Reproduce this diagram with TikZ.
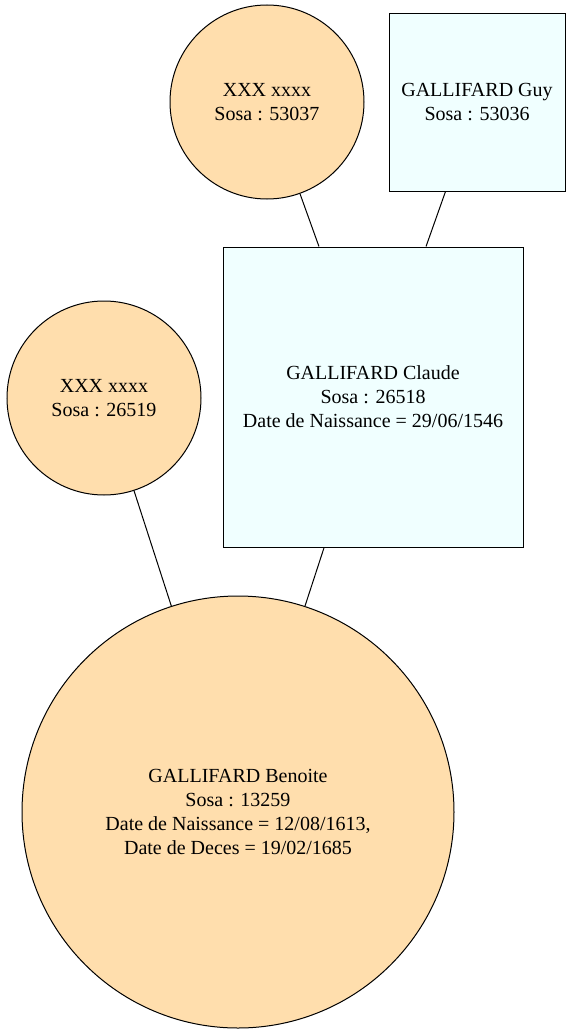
\documentclass[tikz,border=0pt]{standalone}
\usepackage{fontspec}
\setmainfont{Liberation Serif}
\definecolor{navajo}{RGB}{255,222,173}
\definecolor{azur}{RGB}{240,255,255}

\begin{document}
\begin{tikzpicture}[
				x=1pt,y=-1pt,
				line width=1pt,
				font=\fontsize{20}{24}\selectfont]
			\tikzstyle{woman node}=[circle,draw,fill=navajo,align=center,inner sep=0]
			\tikzstyle{man node}=[rectangle,draw,fill=azur,align=center,inner sep=0]
			\useasboundingbox (0,0) rectangle (570,1033);
			\node[woman node,minimum size=194] (sosa53037) at (267,102) {XXX xxxx\\Sosa : 53037};
			\node[man node,minimum width=176,minimum height=177] (sosa53036) at (477,102.5) {GALLIFARD Guy\\Sosa : 53036};
			\node[man node,minimum size=300] (sosa26518) at (373,397) {GALLIFARD Claude\\Sosa : 26518\\Date de Naissance = 29/06/1546};
			\node[woman node,minimum size=194] (sosa26519) at (104,398) {XXX xxxx\\Sosa : 26519};
			\node[woman node,minimum size=432] (sosa13259) at (238,812) {GALLIFARD Benoite\\Sosa : 13259\\Date de Naissance = 12/08/1613,\\Date de Deces = 19/02/1685};
			\draw (sosa53037) -- (sosa26518);
			\draw (sosa53036) -- (sosa26518);
			\draw (sosa26519) -- (sosa13259);
			\draw (sosa26518) -- (sosa13259);
		\end{tikzpicture}
\end{document}
